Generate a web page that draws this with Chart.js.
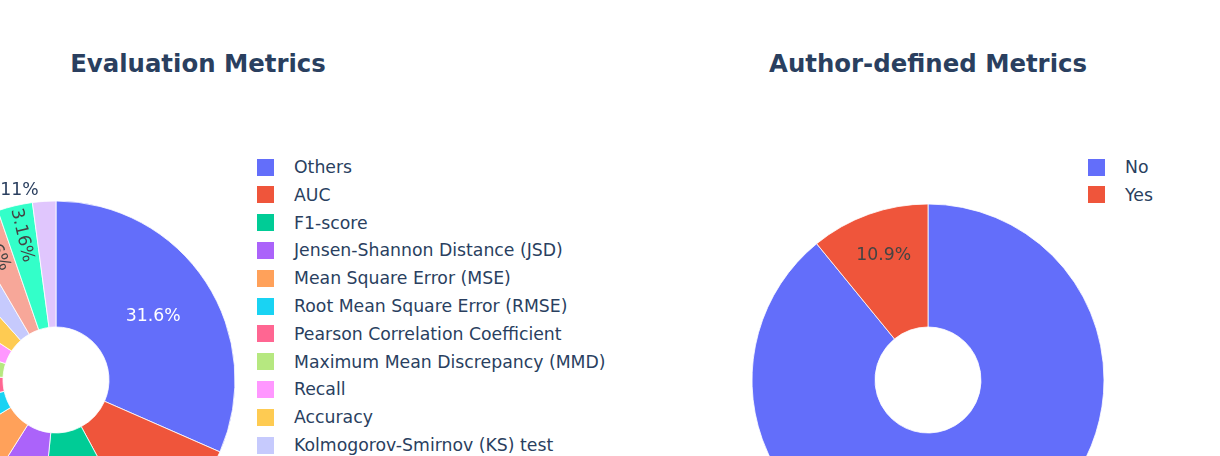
<!DOCTYPE html>
<html>
<head>
<meta charset="utf-8">
<script src="https://cdn.jsdelivr.net/npm/chart.js@4.4.1/dist/chart.umd.min.js"></script>
<style>
html, body { margin: 0; padding: 0; background: #fff; }
body { width: 1220px; height: 456px; overflow: hidden; position: relative;
       font-family: "DejaVu Sans", Verdana, sans-serif; color: #2a3f5f; }
canvas { position: absolute; }
.title { position: absolute; top: 49px; height: 30px; line-height: 30px; font-size: 24.4px;
         font-weight: bold; white-space: nowrap; transform: translateX(-50%); }
.legend { position: absolute; font-size: 17.3px; }
.item { position: absolute; left: 0; height: 28px; line-height: 28px; white-space: nowrap; }
.swatch { position: absolute; left: 0; top: 5.5px; width: 17px; height: 17px; }
.item span { position: absolute; left: 37px; top: 0; }
</style>
</head>
<body>
<div class="title" style="left:198px">Evaluation Metrics</div>
<div class="title" style="left:928px">Author-defined Metrics</div>
<div class="legend" id="legendLeft" style="left:257px;top:153px"></div>
<div class="legend" id="legendRight" style="left:1088px;top:153px"></div>
<canvas id="metricsPie" width="440" height="440" style="left:-164px;top:160px"></canvas>
<canvas id="authorPie" width="440" height="440" style="left:708px;top:160px"></canvas>
<script>
// evaluation metrics (counts of papers, sorted as in the plot)
var metricLabels = ['Others', 'AUC', 'F1-score', 'Jensen-Shannon Distance (JSD)', 'Mean Square Error (MSE)',
  'Root Mean Square Error (RMSE)', 'Pearson Correlation Coefficient', 'Maximum Mean Discrepancy (MMD)',
  'Recall', 'Accuracy', 'Kolmogorov-Smirnov (KS) test', 'Precision', 'Wasserstein Distance',
  'Mean Absolute Error (MAE)']
var metricCounts = [30, 10, 9, 7, 7, 5, 4, 4, 4, 4, 3, 3, 3, 2]

// author-defined metrics
var authorLabels = ['No', 'Yes']
var authorShares = [89.1, 10.9]

// plotly colorway + its lightened extension for pies with many slices
var palette = ['#636efa', '#EF553B', '#00cc96', '#ab63fa', '#FFA15A', '#19d3f3', '#FF6692', '#B6E880',
  '#FF97FF', '#FECB52', '#c6cafd', '#f7a799', '#33ffc9', '#e0c6fd']

var TEXTPAD = 3
var FONT_SIZE = 17.3
var HOLE = 53

function brightness(hex) {
  var n = parseInt(hex.slice(1), 16)
  return (((n >> 16) & 255) * 299 + ((n >> 8) & 255) * 587 + (n & 255) * 114) / 1000
}
function calcRotate(t) { return (180 / Math.PI * t + 720) % 180 - 90 }
function maxHalfSize(a, half, r, ring) {
  var q = a + 1 / (2 * Math.tan(half))
  return r * Math.min(1 / (Math.sqrt(q * q + 0.5) + q), ring / (Math.sqrt(a * a + ring / 2) + a))
}
function insideTransform(w, h, r, ring, half, mid) {
  var rIn = Math.min(1 / (1 + 1 / Math.sin(half)), ring / 2)
  var hor = { scale: rIn * r * 2 / Math.sqrt(w * w + h * h), rCenter: 1 - rIn, rotate: 0 }
  if (hor.scale >= 1) return hor
  var rr = Math.max(0, r - 2 * TEXTPAD)
  var a = w / h
  var s = maxHalfSize(a, half, rr, ring)
  var rad = { scale: s * 2 / h, rCenter: Math.cos(s / rr) - a * s / rr, rotate: calcRotate(mid) }
  a = h / w
  s = maxHalfSize(a, half, rr, ring)
  var tan = { scale: s * 2 / w, rCenter: Math.cos(s / rr) - a * s / rr, rotate: calcRotate(mid + Math.PI / 2) }
  var best = hor
  ;[rad, tan].forEach(function (t) { if (t.scale > best.scale) best = t })
  return best
}
function outsideTransform(w, h, mx, my) {
  var dx = w / 2, dy = h / 2
  if (mx < 0) dx *= -1
  if (my < 0) dy *= -1
  return { scale: 1, rCenter: 1, rotate: 0, x: dx + Math.abs(dy) * (dx > 0 ? 1 : -1) / 2, y: dy / (1 + mx * mx / (my * my)) }
}

var percentLabels = {
  id: 'percentLabels',
  afterDatasetsDraw: function (chart) {
    var ctx = chart.ctx
    var ds = chart.data.datasets[0]
    var total = ds.data.reduce(function (a, b) { return a + b }, 0)
    ctx.save()
    ctx.font = FONT_SIZE + 'px "DejaVu Sans", Verdana, sans-serif'
    ctx.textAlign = 'center'
    ctx.textBaseline = 'middle'
    chart.getDatasetMeta(0).data.forEach(function (arc, i) {
      var p = arc.getProps(['x', 'y', 'startAngle', 'endAngle', 'innerRadius', 'outerRadius'])
      var txt = parseFloat((ds.data[i] / total * 100).toPrecision(3)) + '%'
      var w = ctx.measureText(txt).width, h = FONT_SIZE * 1.25
      var r = p.outerRadius, ring = (p.outerRadius - p.innerRadius) / r
      var half = (p.endAngle - p.startAngle) / 2
      var mid = (p.startAngle + p.endAngle) / 2 + Math.PI / 2
      var mx = r * Math.sin(mid), my = -r * Math.cos(mid)
      var t = insideTransform(w, h, r, ring, half, mid)
      var color = brightness(ds.backgroundColor[i]) < 128 ? '#fff' : '#444'
      if (t.scale < 1) { t = outsideTransform(w, h, mx, my); color = '#2a3f5f' }
      ctx.save()
      ctx.translate(p.x + mx * t.rCenter + (t.x || 0), p.y + my * t.rCenter + (t.y || 0))
      ctx.rotate(t.rotate * Math.PI / 180)
      ctx.fillStyle = color
      ctx.fillText(txt, 0, 0)
      ctx.restore()
    })
    ctx.restore()
  }
}

function makePie(id, labels, values, radius) {
  return new Chart(document.getElementById(id), {
    type: 'doughnut',
    data: {
      labels: labels,
      datasets: [{
        data: values,
        backgroundColor: palette.slice(0, values.length),
        borderColor: '#ffffff',
        borderWidth: 0.8,
      }],
    },
    options: {
      responsive: false,
      animation: false,
      events: [],
      radius: radius,
      cutout: (HOLE / radius * 100) + '%',
      layout: { padding: 0 },
      plugins: { legend: { display: false }, tooltip: { enabled: false } },
    },
    plugins: [percentLabels],
  })
}

function makeLegend(id, labels) {
  var box = document.getElementById(id)
  labels.forEach(function (lab, i) {
    var row = document.createElement('div')
    row.className = 'item'
    row.style.top = (i * 27.8) + 'px'
    var sw = document.createElement('div')
    sw.className = 'swatch'
    sw.style.background = palette[i]
    var tx = document.createElement('span')
    tx.textContent = lab
    row.appendChild(sw)
    row.appendChild(tx)
    box.appendChild(row)
  })
}

makePie('metricsPie', metricLabels, metricCounts, 179)
makePie('authorPie', authorLabels, authorShares, 176)
makeLegend('legendLeft', metricLabels)
makeLegend('legendRight', authorLabels)
</script>
</body>
</html>
